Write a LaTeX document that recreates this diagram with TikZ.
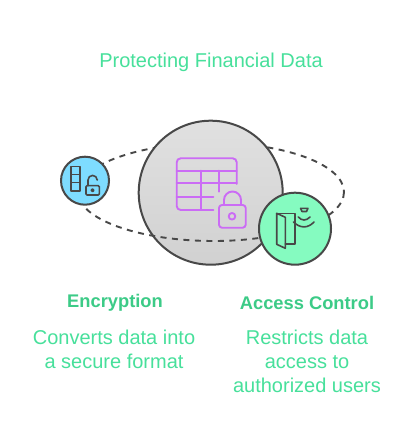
\documentclass[tikz,border=0pt]{standalone}
\usepackage{fontspec}
\setmainfont{Liberation Sans}
\definecolor{mint}{HTML}{47E09B}
\definecolor{deepmint}{HTML}{3CCB87}
\definecolor{ink}{HTML}{484848}
\definecolor{violet}{HTML}{CB6CF5}
\definecolor{lockblue}{HTML}{7EDCFF}
\definecolor{doorgreen}{HTML}{85FBC0}
\tikzset{
  hub/.style={circle,draw=ink,line width=2pt,inner sep=0pt},
  loopline/.style={draw=ink,line width=1.9pt,dash pattern=on 6pt off 5.5pt},
  glyph/.style={draw=ink,line width=1.6pt,line join=round,line cap=round},
  tableglyph/.style={draw=violet,line width=1.9pt,line join=round,line cap=round},
  heading/.style={text=deepmint,font=\bfseries\fontsize{18.3}{22}\selectfont,align=center},
  caption/.style={text=mint,font=\fontsize{20}{24}\selectfont,align=center},
}
\begin{document}
\begin{tikzpicture}[x=1pt,y=-1pt]
\useasboundingbox[fill=white] (0,0) rectangle (410,446);
% loop, back half
\coordinate (loopcentre) at (214,192);
\draw[loopline] (loopcentre) ++(-136,0) arc [start angle=180,end angle=90,x radius=136,y radius=-49]
  arc [start angle=90,end angle=0,x radius=130,y radius=-49];
% big circle
\node[hub,minimum size=144pt,top color=black!12,bottom color=black!18] (data) at (210.7,192.7) {};
% loop, front half
\draw[loopline] (loopcentre) ++(130,0) arc [start angle=0,end angle=-90,x radius=130,y radius=-49]
  arc [start angle=-90,end angle=-180,x radius=136,y radius=-49];
\node[hub,minimum size=48pt,fill=lockblue] (lock) at (85,180.7) {};
\node[hub,minimum size=72pt,fill=doorgreen] (door) at (295,228.7) {};
% table icon
\draw[tableglyph,rounded corners=4pt] (236.7,184)--(236.7,158.3)--(176.7,158.3)--(176.7,210)--(213.3,210);
\draw[tableglyph] (176.7,170.7)--(236.7,170.7) (176.7,183.3)--(236.7,183.3) (176.7,196.7)--(213.3,196.7)
  (201,170.7)--(201,210) (219,170.7)--(219,191.7);
\draw[tableglyph,rounded corners=3pt] (219,205) rectangle (245.7,227.7);
\draw[tableglyph] (224,205)--(224,200) arc [start angle=180,end angle=0,x radius=8.5,y radius=-8.5] --(241,205);
\draw[tableglyph] (232,216.3) circle (3.3pt);
% stack and open lock
\draw[glyph] (71,166.7) rectangle (80,191) (71,174.5)--(80,174.5) (71,182.5)--(80,182.5);
\draw[glyph,rounded corners=1pt] (86,185.7) rectangle (99.3,195);
\draw[glyph] (88,185.7)--(88,180) arc [start angle=180,end angle=0,x radius=4.6,y radius=-4.6] --(97.2,179.5);
\draw[glyph] (92.6,190.3) circle (1.3pt);
% door and sensor
\draw[glyph] (276.7,213.3)--(285.3,217.3)--(285.3,248.3)--(276.7,244.3)--cycle;
\draw[glyph] (276.7,213.3)--(295,213.3)--(295,244)--(285.3,244);
\draw[glyph] (300.5,208.3)--(308,208.3)--(306.5,211.5)--(302,211.5)--cycle;
\draw[glyph] (298.3,217) .. controls (302,221) and (306,221) .. (310,217);
\draw[glyph] (293.5,222) .. controls (300,228.5) and (308,228.5) .. (314,222);
% texts
\node[text=mint,font=\fontsize{20}{24}\selectfont] (title) at (211,62) {Protecting Financial Data};
\node[heading] (enc) at (115,303) {Encryption};
\node[caption] (enctext) at (114,349) {Converts data into\\a secure format};
\node[heading] (acc) at (307,303) {Access Control};
\node[caption] (acctext) at (307,361) {Restricts data\\access to\\authorized users};
\end{tikzpicture}
\end{document}
